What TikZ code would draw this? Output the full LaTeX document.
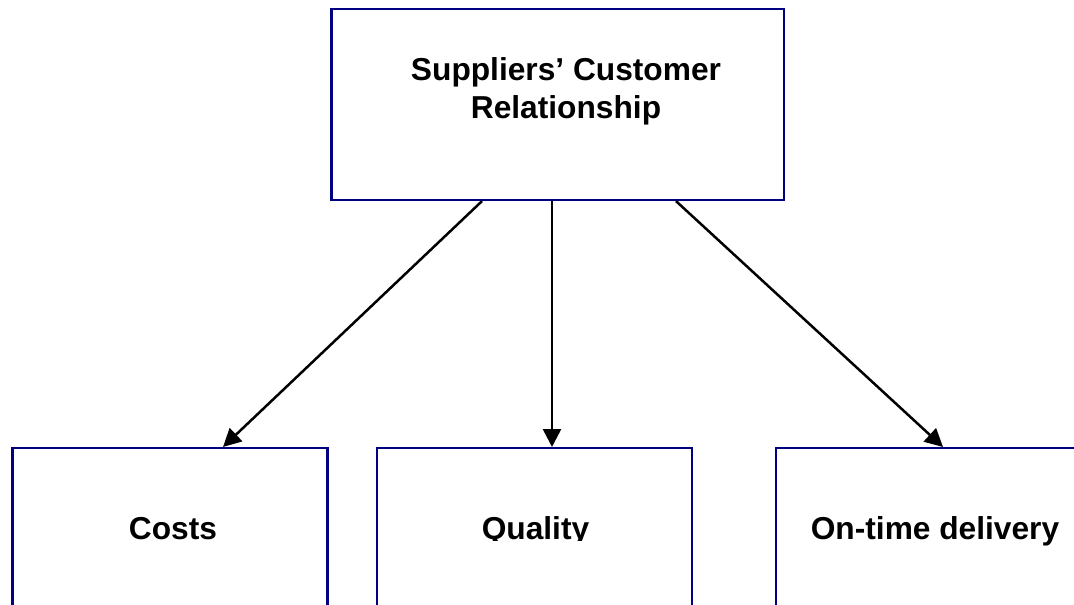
\documentclass[tikz,border=0pt]{standalone}
\usepackage{fontspec}
\setmainfont{Liberation Sans}
\usetikzlibrary{arrows.meta}
\definecolor{boxnavy}{RGB}{0,0,128}
\begin{document}
\begin{tikzpicture}[x=1pt,y=-1pt,
  box/.style={draw=boxnavy,line width=2.2pt,rectangle,inner sep=0pt},
  topbox/.style={box,minimum width=452.5pt,minimum height=191pt},
  lowbox/.style={box,minimum width=315pt,minimum height=260pt,anchor=north},
  lbl/.style={font=\bfseries\fontsize{31.7}{38}\selectfont,inner sep=0pt,align=center,anchor=base},
  link/.style={line width=2.5pt,-{Triangle[length=18pt,width=18pt]}}]
  \clip (0,0) rectangle (1074,605);
  % upper box and its two-line title (base anchor sits on the second line)
  \node[topbox] (top) at (557.75,104.5) {};
  \node[lbl] (toptext) at (566,118) {Suppliers’ Customer\\Relationship};
  % three lower boxes, running past the lower edge
  \node[lowbox] (costs) at (170,447) {};
  \node[lowbox] (quality) at (534.5,447) {};
  \node[lowbox] (ontime) at (933.5,447) {};
  \node[lbl] (coststext) at (173,539.5) {Costs};
  \begin{scope}
    \clip (377,447) rectangle (692,540);
    \node[lbl] (qualitytext) at (535.5,539.5) {Quality};
  \end{scope}
  \node[lbl] (ontimetext) at (935,539.5) {On-time delivery};
  % connectors
  \draw[link] ([xshift=-75.75pt]top.south) -- ([xshift=53pt]costs.north);
  \draw[link] ([xshift=-5.75pt]top.south) -- ([xshift=17.5pt]quality.north);
  \draw[link] ([xshift=118.25pt]top.south) -- ([xshift=9.5pt]ontime.north);
\end{tikzpicture}
\end{document}
